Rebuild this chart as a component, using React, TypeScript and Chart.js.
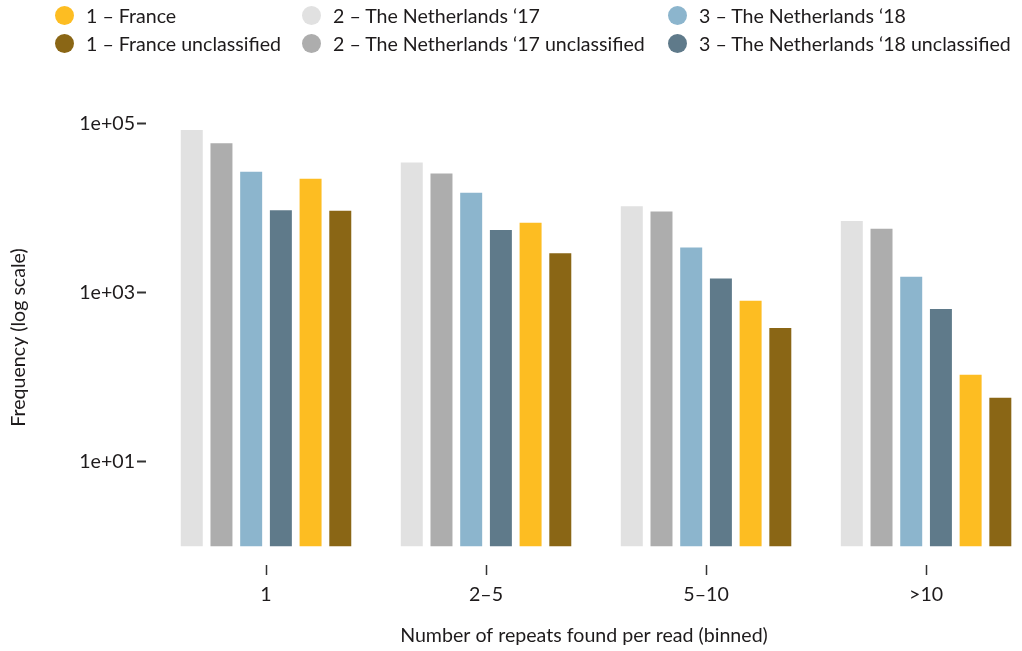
import React, { useEffect, useRef } from "react";
import { Chart, registerables } from "chart.js";

Chart.register(...registerables);

// ---- data ----
const categories = ["1", "2–5", "5–10", ">10"];

const seriesNames = [
  "2 – The Netherlands ‘17",
  "2 – The Netherlands ‘17 unclassified",
  "3 – The Netherlands ‘18",
  "3 – The Netherlands ‘18 unclassified",
  "1 – France",
  "1 – France unclassified",
];
const seriesColors = ["#e1e1e1", "#adadad", "#8cb5cd", "#5f7a8a", "#fdbd22", "#8a6615"];

const nl17 = [83900, 34600, 10500, 7000];
const nl17Unclassified = [58500, 25500, 9100, 5690];
const nl18 = [26900, 15100, 3400, 1535];
const nl18Unclassified = [9420, 5480, 1470, 640];
const france = [22200, 6700, 801, 107];
const franceUnclassified = [9270, 2915, 382, 57];

const seriesValues = [nl17, nl17Unclassified, nl18, nl18Unclassified, france, franceUnclassified];

const yTickValues = [10, 1000, 100000];
const yTickLabels = ["1e+01", "1e+03", "1e+05"];

// legend grid: rows x columns of dataset indices
const legendRows = [
  [4, 0, 2],
  [5, 1, 3],
];

const FONT = "Lato, 'Noto Sans', sans-serif";
const TEXT = "#1e1b1c";
const FS = 19.6;

export default function App() {
  const canvasRef = useRef<HTMLCanvasElement | null>(null);

  useEffect(() => {
    const canvas = canvasRef.current;
    if (!canvas) return;
    const chart = new Chart(canvas, {
      type: "bar",
      data: {
        datasets: seriesValues.map((vals, si) => ({
          label: seriesNames[si],
          data: vals.map((v, i) => ({ x: i + 1, y: v })),
          backgroundColor: seriesColors[si],
          borderWidth: 0,
          base: 1,
          categoryPercentage: 0.81,
          barPercentage: 0.74,
        })),
      },
      options: {
        responsive: false,
        animation: false,
        layout: { padding: { top: 110, left: 0, right: 0, bottom: 0 } },
        plugins: {
          legend: { display: false },
          tooltip: { enabled: false },
        },
        scales: {
          x: {
            type: "linear",
            min: 0.4545,
            max: 4.436,
            offset: false,
            afterBuildTicks: (scale: any) => {
              scale.ticks = categories.map((_, i) => ({ value: i + 1 }));
            },
            afterFit: (scale: any) => {
              scale.height = 86;
            },
            ticks: {
              autoSkip: false,
              maxRotation: 0,
              padding: 8,
              color: TEXT,
              font: { family: FONT, size: FS },
              callback: (v: any) => categories[Math.round(Number(v)) - 1] ?? "",
            },
            grid: {
              display: true,
              offset: false,
              drawOnChartArea: false,
              drawTicks: true,
              tickLength: 10,
              tickWidth: 1.5,
              tickColor: "#333",
            },
            border: { display: false },
            title: {
              display: true,
              text: "Number of repeats found per read (binned)",
              color: TEXT,
              font: { family: FONT, size: FS },
              padding: { top: 0, bottom: 4 },
            },
          },
          y: {
            type: "logarithmic",
            min: 0.64,
            max: 144200,
            afterBuildTicks: (scale: any) => {
              scale.ticks = yTickValues.map((v) => ({ value: v }));
            },
            afterFit: (scale: any) => {
              scale.width = 146;
            },
            ticks: {
              padding: 2,
              color: TEXT,
              font: { family: FONT, size: FS },
              callback: (v: any) => {
                const idx = yTickValues.indexOf(Number(v));
                return idx >= 0 ? yTickLabels[idx] : "";
              },
            },
            grid: {
              display: true,
              drawOnChartArea: false,
              drawTicks: true,
              tickLength: 9,
              tickWidth: 2,
              tickColor: "#333",
            },
            border: { display: false },
            title: {
              display: true,
              text: "Frequency (log scale)",
              color: TEXT,
              font: { family: FONT, size: FS },
              padding: { top: 7, bottom: 0 },
            },
          },
        },
      },
    } as any);
    return () => chart.destroy();
  }, []);

  const colLefts = [55, 302, 668];
  const rowCenters = [15, 43];

  return (
    <div
      style={{
        position: "absolute",
        left: 0,
        top: 0,
        width: 1022,
        height: 651,
        background: "#fff",
        overflow: "hidden",
      }}
    >
      <canvas ref={canvasRef} width={1022} height={651} style={{ display: "block", width: 1022, height: 651 }} />
      {legendRows.map((row, ri) =>
        row.map((si, ci) => (
          <div
            key={`${ri}-${ci}`}
            style={{
              position: "absolute",
              left: colLefts[ci],
              top: rowCenters[ri] - 12,
              height: 24,
              display: "flex",
              alignItems: "center",
              fontFamily: FONT,
              fontSize: FS,
              color: TEXT,
              whiteSpace: "nowrap",
            }}
          >
            <span
              style={{
                display: "inline-block",
                width: 19,
                height: 19,
                borderRadius: "50%",
                background: seriesColors[si],
                marginRight: 12,
              }}
            />
            <span>{seriesNames[si]}</span>
          </div>
        ))
      )}
    </div>
  );
}
